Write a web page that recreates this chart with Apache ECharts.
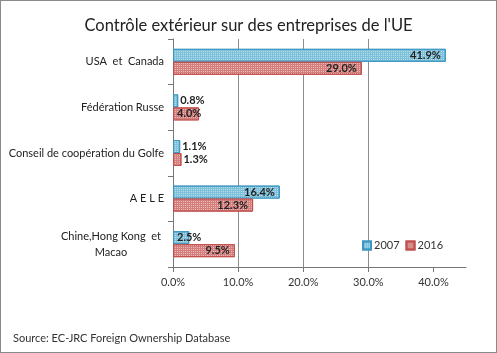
<!DOCTYPE html>
<html>
<head>
<meta charset="utf-8">
<script src="https://cdn.jsdelivr.net/npm/echarts@6/dist/echarts.min.js"></script>
<style>
  html, body { margin: 0; padding: 0; background: #fff; }
  #chart { width: 497px; height: 353px; box-sizing: border-box; border: 1px solid #8a8a8a; }
</style>
</head>
<body>
<div id="chart"></div>
<script>
// categories, top to bottom
const categories = ['USA  et  Canada', 'Fédération Russe', 'Conseil de coopération du Golfe', 'A E L E', 'Chine,Hong Kong  et\nMacao']
const years = ['2007', '2016']
const values2007 = [41.9, 0.8, 1.1, 16.4, 2.5]
const values2016 = [29.0, 4.0, 1.3, 12.3, 9.5]
const tickValues = [0, 10, 20, 30, 40]

const colors = ['#7cc0da', '#d47f7c']
const borders = ['#3d97c2', '#c0504d']

// short bars get their label next to / over the bar start, like in Excel
function labelPos(v) {
  if (v < 2) return { position: 'right', distance: 2 }
  if (v < 5) return { position: 'insideLeft', distance: 4 }
  return { position: 'insideRight', distance: 5 }
}

function makeSeries(name, values, idx) {
  return {
    name: name,
    type: 'bar',
    barWidth: 13,
    barGap: '0%',
    data: values.map(function(v) {
      return { value: v, label: labelPos(v) }
    }),
    itemStyle: {
      color: colors[idx],
      borderColor: borders[idx],
      borderWidth: 1,
      decal: {
        symbol: 'rect',
        symbolSize: 1,
        dashArrayX: [1, 1],
        dashArrayY: [1, 1],
        color: 'rgba(255,255,255,0.45)'
      }
    },
    label: {
      show: true,
      formatter: function(p) { return p.value.toFixed(1) + '%' },
      fontFamily: 'Lato',
      fontWeight: 'bold',
      fontSize: 11,
      color: '#222'
    },
    animation: false
  }
}

const chart = echarts.init(document.getElementById('chart'))
chart.setOption({
  title: {
    text: "Contrôle extérieur sur des entreprises de l'UE",
    left: 'center',
    top: 11,
    textStyle: { fontFamily: 'Lato', fontWeight: 'normal', fontSize: 16.5, color: '#222' }
  },
  legend: {
    data: years,
    left: 356,
    top: 234,
    itemWidth: 8,
    itemHeight: 8,
    itemGap: 6,
    icon: 'rect',
    textStyle: { fontFamily: 'Lato', fontSize: 11, color: '#333', padding: [0, 0, 0, -2] }
  },
  grid: { left: 172, top: 38, right: 30, bottom: 85, outerBoundsMode: 'none' },
  xAxis: {
    type: 'value',
    min: 0,
    max: 45,
    interval: 10,
    axisLine: { show: true, lineStyle: { color: '#777' } },
    axisTick: { show: true, length: 5, customValues: tickValues, lineStyle: { color: '#777' } },
    axisLabel: {
      customValues: tickValues,
      formatter: function(v) { return v.toFixed(1) + '%' },
      fontFamily: 'Lato',
      fontSize: 11,
      color: '#333',
      margin: 10
    },
    splitLine: { show: true, showMaxLine: false, lineStyle: { color: '#8c8c8c' } }
  },
  yAxis: {
    type: 'category',
    inverse: true,
    data: categories,
    axisLine: { show: true, lineStyle: { color: '#777' } },
    axisTick: { show: true, length: 5, lineStyle: { color: '#777' } },
    axisLabel: {
      margin: 9,
      fontFamily: 'Lato',
      fontSize: 11,
      color: '#222',
      formatter: function(v) {
        if (v.indexOf('\n') >= 0) return '{m|' + v + '}'
        return v
      },
      rich: {
        m: { width: 106, align: 'center', fontFamily: 'Lato', fontSize: 11, color: '#222', lineHeight: 16 }
      }
    }
  },
  graphic: [{
    type: 'text',
    left: 12,
    top: 332,
    style: { text: 'Source: EC-JRC Foreign Ownership Database', fontFamily: 'Lato', fontSize: 11, fill: '#333' }
  }],
  series: [
    makeSeries(years[0], values2007, 0),
    makeSeries(years[1], values2016, 1)
  ]
})
</script>
</body>
</html>
